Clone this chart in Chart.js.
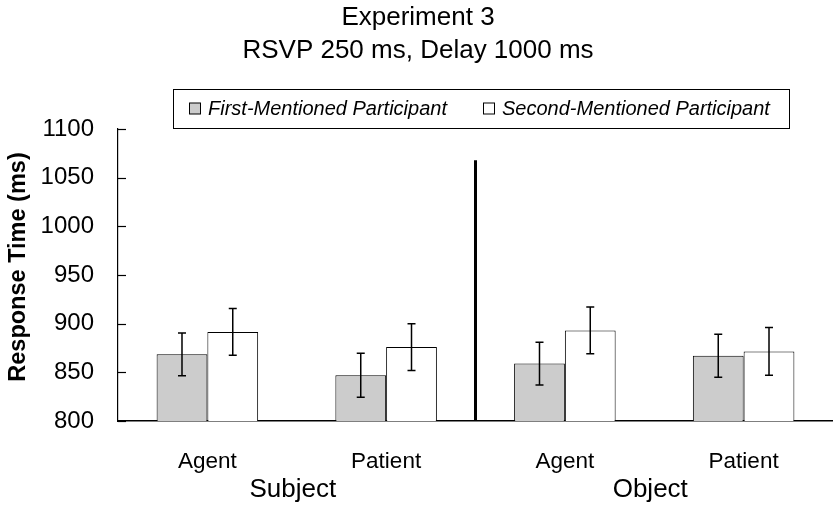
<!DOCTYPE html>
<html>
<head>
<meta charset="utf-8">
<script src="https://cdn.jsdelivr.net/npm/chart.js@4"></script>
<style>
  html, body { margin: 0; padding: 0; background: #fff; overflow: hidden; }
  #wrap { width: 833px; height: 508px; }
</style>
</head>
<body>
<div id="wrap"><canvas id="c" width="833" height="508"></canvas></div>
<script>
const titleLines = ['Experiment 3', 'RSVP 250 ms, Delay 1000 ms'];
const categories = ['Agent', 'Patient', 'Agent', 'Patient'];
const groups = ['Subject', 'Object'];
const seriesNames = ['First-Mentioned Participant', 'Second-Mentioned Participant'];
const firstMentioned = [868.5, 847, 859, 867];
const secondMentioned = [891.5, 876, 893, 871.5];
const errFirst = [22, 22.5, 22, 22];
const errSecond = [24, 24, 24, 24.5];
const yTicks = [800, 850, 900, 950, 1000, 1050, 1100];
const yAxisTitle = 'Response Time (ms)';
const dividerTopValue = 1068;

const FONT = "'Liberation Sans', Arial, Helvetica, sans-serif";
const errors = [errFirst, errSecond];

const extrasPlugin = {
  id: 'extras',
  afterDatasetsDraw(chart) {
    const ctx = chart.ctx;
    const x = chart.scales.x, y = chart.scales.y;
    const ca = chart.chartArea;
    ctx.save();
    // error bars
    ctx.strokeStyle = '#000';
    ctx.lineWidth = 1.5;
    chart.data.datasets.forEach((ds, di) => {
      const meta = chart.getDatasetMeta(di);
      meta.data.forEach((bar, i) => {
        const v = ds.data[i], e = errors[di][i];
        const cx = bar.x;
        const yt = y.getPixelForValue(v + e), yb = y.getPixelForValue(v - e);
        ctx.beginPath();
        ctx.moveTo(cx, yt); ctx.lineTo(cx, yb);
        ctx.moveTo(cx - 4, yt); ctx.lineTo(cx + 4, yt);
        ctx.moveTo(cx - 4, yb); ctx.lineTo(cx + 4, yb);
        ctx.stroke();
      });
    });
    // inward y ticks
    ctx.lineWidth = 1.2;
    yTicks.forEach(t => {
      const py = Math.round(y.getPixelForValue(t)) + 0.5;
      ctx.beginPath();
      ctx.moveTo(ca.left, py); ctx.lineTo(ca.left + 8, py);
      ctx.stroke();
    });
    // divider
    const dx = (x.getPixelForValue(1) + x.getPixelForValue(2)) / 2;
    ctx.lineWidth = 3;
    ctx.beginPath();
    ctx.moveTo(dx, y.getPixelForValue(dividerTopValue));
    ctx.lineTo(dx, ca.bottom);
    ctx.stroke();
    // group labels
    ctx.fillStyle = '#000';
    ctx.font = '26px ' + FONT;
    ctx.textAlign = 'center';
    ctx.textBaseline = 'middle';
    groups.forEach((g, gi) => {
      const gx = (x.getPixelForValue(gi * 2) + x.getPixelForValue(gi * 2 + 1)) / 2 - 4;
      ctx.fillText(g, gx, 490);
    });
    // y axis title
    ctx.save();
    ctx.translate(19, 267);
    ctx.rotate(-Math.PI / 2);
    ctx.font = 'bold 23.5px ' + FONT;
    ctx.fillText(yAxisTitle, 0, 0);
    ctx.restore();
    // legend
    const lx = ca.left + 55, ly = 89, lw = 616, lh = 39;
    ctx.lineWidth = 1;
    ctx.strokeStyle = '#000';
    ctx.strokeRect(Math.round(lx) + 0.5, ly + 0.5, lw, lh);
    ctx.font = 'italic 20px ' + FONT;
    ctx.textAlign = 'left';
    let cx = lx + 16;
    const cy = ly + lh / 2;
    chart.data.datasets.forEach((ds, di) => {
      ctx.fillStyle = ds.backgroundColor;
      ctx.fillRect(Math.round(cx) + 0.5, cy - 5.5, 11, 11);
      ctx.strokeRect(Math.round(cx) + 0.5, cy - 5.5, 11, 11);
      ctx.fillStyle = '#000';
      ctx.fillText(seriesNames[di], cx + 19, cy + 1);
      cx += 19 + ctx.measureText(seriesNames[di]).width + 36;
    });
    ctx.restore();
  }
};

new Chart(document.getElementById('c'), {
  type: 'bar',
  data: {
    labels: categories,
    datasets: [
      { label: seriesNames[0], data: firstMentioned, backgroundColor: '#cccccc', borderColor: '#000', borderWidth: 1 },
      { label: seriesNames[1], data: secondMentioned, backgroundColor: '#ffffff', borderColor: '#000', borderWidth: 1 }
    ]
  },
  options: {
    responsive: false,
    animation: false,
    devicePixelRatio: 1,
    layout: { padding: { left: 0, right: -3, top: 0, bottom: 0 } },
    datasets: { bar: { categoryPercentage: 0.568, barPercentage: 1.0 } },
    plugins: {
      legend: { display: false },
      tooltip: { enabled: false },
      title: {
        display: true,
        text: titleLines,
        color: '#000',
        font: { family: FONT, size: 26, weight: 'normal', lineHeight: 1.25 },
        padding: { top: 2, bottom: 62 }
      }
    },
    scales: {
      x: {
        grid: { display: false, drawTicks: false },
        border: { display: true, color: '#000', width: 1.5 },
        ticks: { color: '#000', font: { family: FONT, size: 22.5 }, padding: 27, maxRotation: 0 },
        afterFit(s) { s.height = 87; }
      },
      y: {
        min: 800, max: 1100,
        afterBuildTicks(s) { s.ticks = yTicks.map(v => ({ value: v })); },
        grid: { display: false, drawTicks: false },
        border: { display: true, color: '#000', width: 1.2 },
        ticks: { color: '#000', font: { family: FONT, size: 24 }, padding: 24, callback: v => String(v) },
        afterFit(s) { s.width = 118; }
      }
    }
  },
  plugins: [extrasPlugin]
});
</script>
</body>
</html>
